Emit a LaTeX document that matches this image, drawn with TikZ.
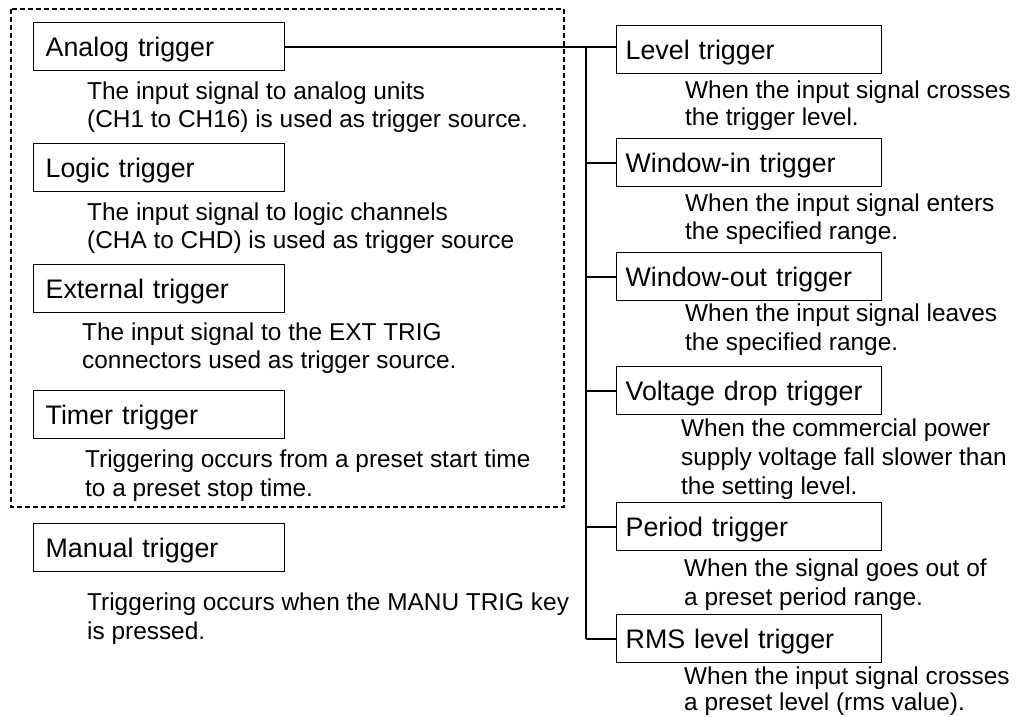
\documentclass[tikz,border=0pt]{standalone}
\usepackage{fontspec}
\setmainfont{Liberation Sans}
\begin{document}
\begin{tikzpicture}[x=1pt,y=-1pt,
  lbox/.style={draw, line width=1.3pt, minimum width=251pt, minimum height=48pt,
    text width=227pt, inner xsep=12pt, inner ysep=0pt, align=left,
    text height=19.1pt, text depth=0pt, font=\fontsize{26.8}{32}\selectfont, anchor=north west},
  rbox/.style={lbox, minimum width=265pt, text width=247pt, inner xsep=9pt},
  desc/.style={anchor=base west, inner sep=0pt, font=\fontsize{24.4}{28}\selectfont},
  conn/.style={line width=2pt},
  group/.style={draw, line width=1.8pt, dash pattern=on 5pt off 3pt}]
\useasboundingbox (0,0) rectangle (1020,716);

% dashed group
\draw[group] (11,9) rectangle (564,507);

% left boxes
\node[lbox] (an) at (33,22)  {Analog trigger};
\node[lbox] (lo) at (33,143) {Logic trigger};
\node[lbox] (ex) at (33,264) {External trigger};
\node[lbox] (ti) at (33,390) {Timer trigger};
\node[lbox] (ma) at (33,523) {Manual trigger};

% right boxes
\node[rbox] (lv) at (616,25)  {Level trigger};
\node[rbox] (wi) at (616,138) {Window-in trigger};
\node[rbox] (wo) at (616,252) {Window-out trigger};
\node[rbox] (vd) at (616,366) {Voltage drop trigger};
\node[rbox] (pe) at (616,502) {Period trigger};
\node[rbox] (rm) at (616,614) {RMS level trigger};

% left descriptions
\node[desc] (anA) at (87,99.5)  {The input signal to analog units};
\node[desc] (anB) at (87,127.5) {(CH1 to CH16) is used as trigger source.};
\node[desc] (loA) at (87,220.5) {The input signal to logic channels};
\node[desc] (loB) at (87,248.5) {(CHA to CHD) is used as trigger source};
\node[desc] (exA) at (82,340.5) {The input signal to the EXT TRIG};
\node[desc] (exB) at (82,368.5) {connectors used as trigger source.};
\node[desc] (tiA) at (85,467.5) {Triggering occurs from a preset start time};
\node[desc] (tiB) at (85,496)   {to a preset stop time.};
\node[desc] (maA) at (87,610.5) {Triggering occurs when the MANU TRIG key};
\node[desc] (maB) at (87,639.5) {is pressed.};

% right descriptions
\node[desc] (lvA) at (685,98.5)  {When the input signal crosses};
\node[desc] (lvB) at (685,125.5) {the trigger level.};
\node[desc] (wiA) at (685,211.5) {When the input signal enters};
\node[desc] (wiB) at (685,239.5) {the specified range.};
\node[desc] (woA) at (685,321.5) {When the input signal leaves};
\node[desc] (woB) at (685,350.5) {the specified range.};
\node[desc] (vdA) at (681,436.5) {When the commercial power};
\node[desc] (vdB) at (681,465.5) {supply voltage fall slower than};
\node[desc] (vdC) at (681,494.5) {the setting level.};
\node[desc] (peA) at (684,576.5) {When the signal goes out of};
\node[desc] (peB) at (684,605.5) {a preset period range.};
\node[desc] (rmA) at (684,684.5) {When the input signal crosses};
\node[desc] (rmB) at (684,710)   {a preset level (rms value).};

% connectors
\coordinate (bus) at (586,46);
\draw[conn] (an.east) -- (an.east -| lv.west);
\draw[conn] (bus) -- (bus |- rm.west);
\draw[conn] (bus |- wi.west) -- (wi.west);
\draw[conn] (bus |- wo.west) -- (wo.west);
\draw[conn] (bus |- vd.west) -- (vd.west);
\draw[conn] (bus |- pe.west) -- (pe.west);
\draw[conn] (bus |- rm.west) -- (rm.west);
\end{tikzpicture}
\end{document}
